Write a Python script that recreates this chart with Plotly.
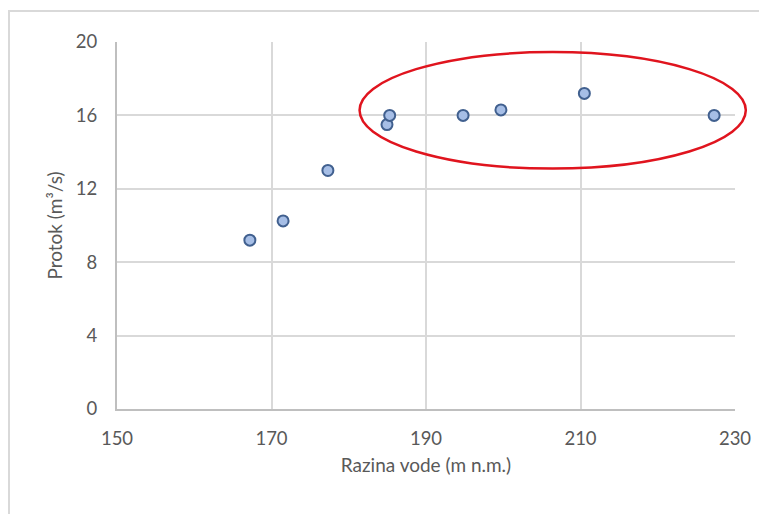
import plotly.graph_objects as go

razina_vode = [167.2, 171.5, 177.3, 184.95, 185.3, 194.8, 199.7, 210.5, 227.3]
protok = [9.2, 10.25, 13.0, 15.5, 16.0, 16.0, 16.3, 17.2, 16.0]

x_ticks = [150, 170, 190, 210, 230]
y_ticks = [0, 4, 8, 12, 16, 20]

X_RANGE = [150, 230]
Y_RANGE = [0, 20]

# highlight ellipse bounds (data units)
ell_x = [181.4, 231.4]
ell_y = [13.1, 19.45]

# page has an 8px body margin; figure placed at (8, 8)
OFF = 8
W, H = 767 - OFF, 514 - OFF
ML, MR, MT, MB = 117 - OFF, 32, 42 - OFF, 105

def px_to_paper_x(px):
    return (px - OFF - ML) / (W - ML - MR)

def px_to_paper_y(py):
    return (H - MB - (py - OFF)) / (H - MT - MB)

def dx(v):
    return (v - X_RANGE[0]) / (X_RANGE[1] - X_RANGE[0])

def dy(v):
    return (v - Y_RANGE[0]) / (Y_RANGE[1] - Y_RANGE[0])

font_family = "Lato, 'Open Sans', sans-serif"

fig = go.Figure()
fig.add_trace(go.Scatter(
    x=razina_vode, y=protok, mode="markers",
    marker=dict(size=11, color="#A6BEE6", line=dict(color="#41608F", width=2)),
    showlegend=False, hoverinfo="x+y",
))

fig.update_layout(
    width=W, height=H,
    margin=dict(l=ML, r=MR, t=MT, b=MB),
    paper_bgcolor="white", plot_bgcolor="white",
    font=dict(family=font_family, color="#595959"),
    xaxis=dict(
        range=X_RANGE, tickvals=x_ticks, ticktext=[str(t) for t in x_ticks],
        showgrid=True, gridcolor="#D9D9D9", gridwidth=2,
        showline=True, linecolor="#BFBFBF", linewidth=2,
        zeroline=False, ticks="", ticklabelstandoff=12,
        tickfont=dict(size=18.5, color="#595959"),
        title=dict(text="Razina vode (m n.m.)", font=dict(size=19, color="#595959"), standoff=10),
    ),
    yaxis=dict(
        range=Y_RANGE, tickvals=y_ticks, ticktext=[str(t) for t in y_ticks],
        showgrid=True, gridcolor="#D9D9D9", gridwidth=2,
        showline=True, linecolor="#BFBFBF", linewidth=2,
        zeroline=False, ticks="", ticklabelstandoff=14,
        tickfont=dict(size=18.5, color="#595959"),
        title=dict(text="Protok (m³/s)", font=dict(size=19, color="#595959"), standoff=8),
    ),
    shapes=[
        dict(type="rect", xref="paper", yref="paper",
             x0=px_to_paper_x(9), x1=px_to_paper_x(790),
             y0=px_to_paper_y(540), y1=px_to_paper_y(11),
             line=dict(color="#D9D9D9", width=2), fillcolor="rgba(0,0,0,0)", layer="below"),
        dict(type="circle", xref="paper", yref="paper",
             x0=dx(ell_x[0]), x1=dx(ell_x[1]),
             y0=dy(ell_y[0]), y1=dy(ell_y[1]),
             line=dict(color="#E0141E", width=2.5)),
    ],
)

fig.write_html("out.html")
